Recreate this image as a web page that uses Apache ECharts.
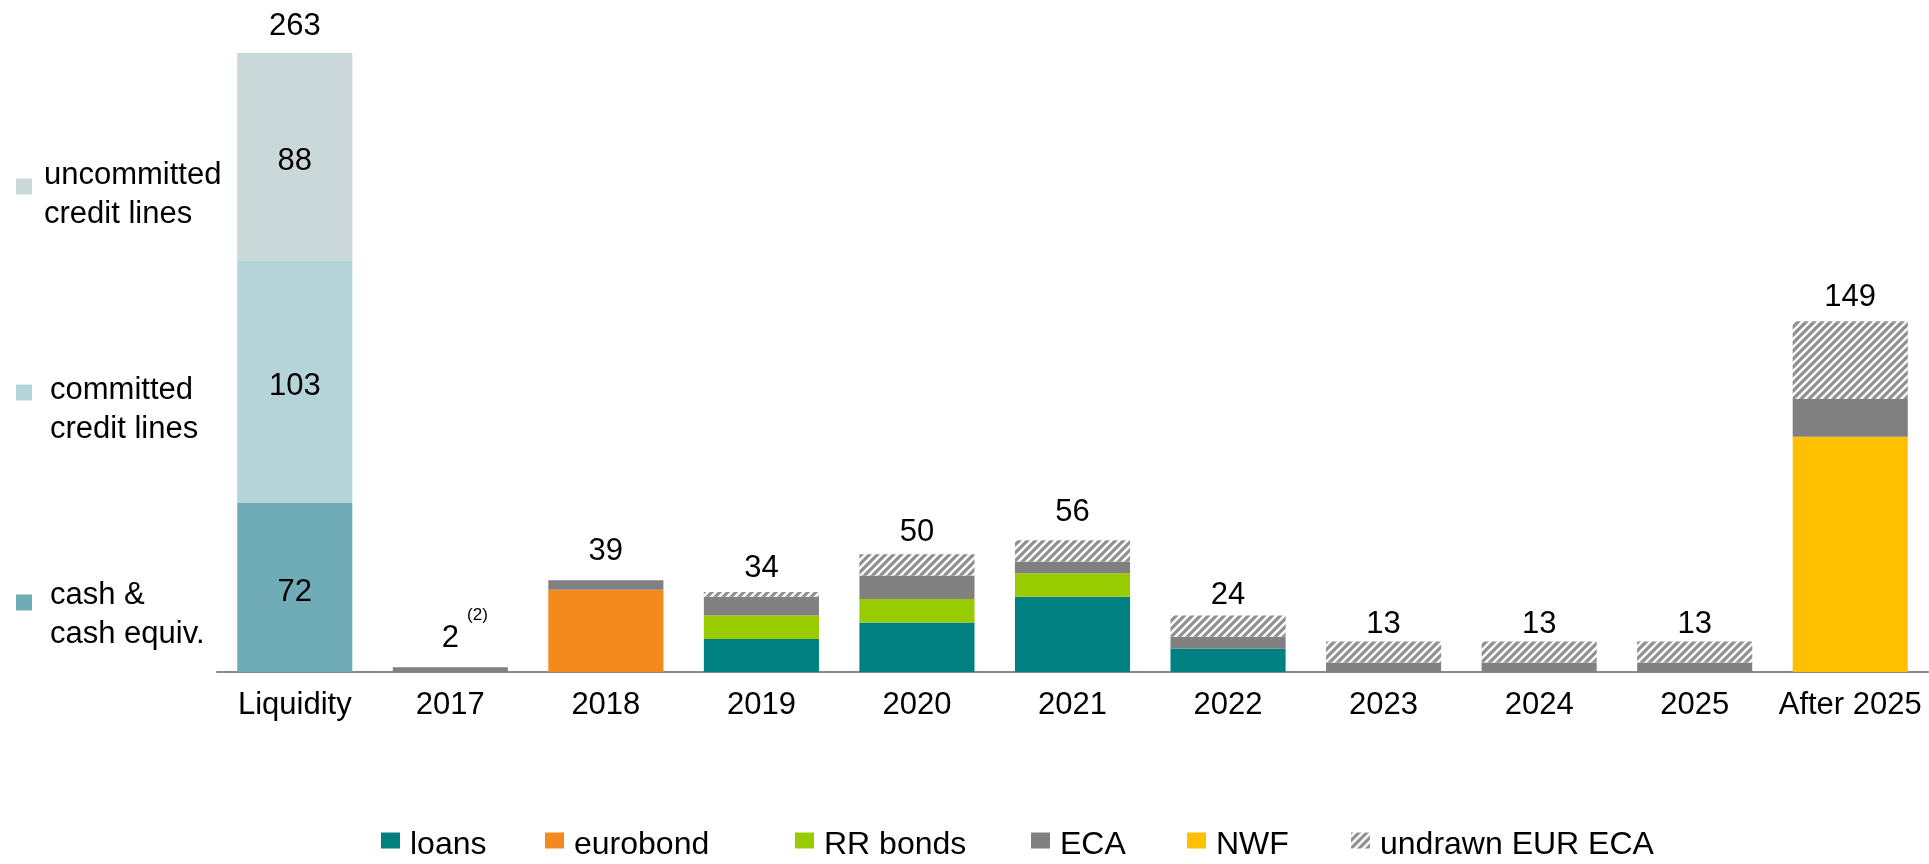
<!DOCTYPE html>
<html>
<head>
<meta charset="utf-8">
<script src="https://cdn.jsdelivr.net/npm/echarts@6/dist/echarts.min.js"></script>
<style>
html,body{margin:0;padding:0;background:#fff;}
#chart{width:1929px;height:864px;}
</style>
</head>
<body>
<div id="chart"></div>
<script>
// ---- data ----
var categories = ['Liquidity','2017','2018','2019','2020','2021','2022','2023','2024','2025','After 2025'];
var cashEquiv   = [72,'-','-','-','-','-','-','-','-','-','-'];
var committed   = [103,'-','-','-','-','-','-','-','-','-','-'];
var uncommitted = [88,'-','-','-','-','-','-','-','-','-','-'];
var loans    = ['-','-','-',14,21,32,10,'-','-','-','-'];
var eurobond = ['-','-',35,'-','-','-','-','-','-','-','-'];
var rrBonds  = ['-','-','-',10,10,10,'-','-','-','-','-'];
var nwf      = ['-','-','-','-','-','-','-','-','-','-',100];
var eca      = ['-',2,4,8,10,5,5,4,4,4,16];
var undrawn  = ['-','-','-',2,9,9,9,9,9,9,33];
var totals   = [263,2,39,34,50,56,24,13,13,13,149];
var footnoteCategory = '2017';
var footnoteText = '(2)';

// ---- style ----
var FONT = "'Liberation Sans', Arial, sans-serif";
// gap between each total label and its bar top (style only)
var totalLabelDistance = {
  'Liquidity': 11, '2017': 13, '2018': 13, '2019': 8, '2020': 6, '2021': 12,
  '2022': 5, '2023': 1, '2024': 1, '2025': 1, 'After 2025': 8
};

function hatch() {
  var c = document.createElement('canvas');
  var s = 8;
  c.width = s; c.height = s;
  var g = c.getContext('2d');
  g.fillStyle = '#ffffff'; g.fillRect(0,0,s,s);
  g.strokeStyle = '#8f8f8f'; g.lineWidth = 3.2;
  g.beginPath();
  g.moveTo(-2, s+2); g.lineTo(s+2, -2);
  g.moveTo(-2-s/2, s/2+2); g.lineTo(s/2+2, -s/2-2);
  g.moveTo(s/2-2, s+s/2+2); g.lineTo(s+s/2+2, s/2-2);
  g.stroke();
  return {image: c, repeat: 'repeat'};
}
var hatchFill = hatch();

var chart = echarts.init(document.getElementById('chart'), null, {renderer:'canvas'});

var insideLabel = {show:true, position:'inside', offset:[0,5], color:'#000', fontSize:31, fontFamily:FONT};
function stackSeries(name, data, color, extra) {
  var s = {
    name: name, type: 'bar', stack: 'a', data: data,
    barCategoryGap: '26%', barGap: '-100%',
    itemStyle: {color: color},
    emphasis: {disabled: true}
  };
  if (extra) for (var k in extra) s[k] = extra[k];
  return s;
}

var totalData = totals.map(function(v, i){
  var cat = categories[i];
  var item = {value: v, label: {distance: totalLabelDistance[cat]}};
  if (cat === footnoteCategory) {
    item.label.formatter = function(p){ return '{pad| }{v|' + p.value + '}{sup|' + footnoteText + '}'; };
    item.label.rich = {
      pad: {width: 29, fontSize: 31, lineHeight: 31, verticalAlign: 'bottom'},
      v: {fontSize: 31, lineHeight: 31, fontFamily: FONT, color: '#000', verticalAlign: 'bottom'},
      sup: {fontSize: 17, lineHeight: 17, fontFamily: FONT, color: '#000', padding: [0,0,30,8], verticalAlign: 'bottom'}
    };
  }
  return item;
});

function shiftedText(name) {
  return '{sp| }\n' + name.split('\n').map(function(l){ return '{a|' + l + '}'; }).join('\n');
}
function leftLegend(name, top, shift, padLeft) {
  return {
    data: [name], orient: 'vertical', left: 16, top: top, padding: 0,
    itemWidth: 16, itemHeight: 16, icon: 'rect', selectedMode: false,
    formatter: shiftedText,
    textStyle: {
      fontSize: 31, fontFamily: FONT, color: '#000', padding: [0, 0, 0, padLeft],
      rich: {
        sp: {fontSize: 1, lineHeight: shift},
        a: {fontSize: 31, fontFamily: FONT, color: '#000', lineHeight: 39}
      }
    }
  };
}
function bottomLegend(name, left) {
  return {
    data: [name], left: left, top: 824, padding: 0,
    itemWidth: 19, itemHeight: 16, icon: 'rect', selectedMode: false,
    formatter: shiftedText,
    textStyle: {
      fontSize: 32, fontFamily: FONT, color: '#000', padding: [0, 0, 0, 5],
      rich: {
        sp: {fontSize: 1, lineHeight: 10},
        a: {fontSize: 32, fontFamily: FONT, color: '#000', lineHeight: 32}
      }
    }
  };
}

var option = {
  backgroundColor: '#fff',
  animation: false,
  textStyle: {fontFamily: FONT},
  grid: {left: 217, right: 1, top: 13, bottom: 192, containLabel: false},
  legend: [
    leftLegend('uncommitted\ncredit lines', 147, 16, 7),
    leftLegend('committed\ncredit lines', 353, 34, 13),
    leftLegend('cash &\ncash equiv.', 563, 24, 13),
    bottomLegend('loans', 381),
    bottomLegend('eurobond', 545),
    bottomLegend('RR bonds', 795),
    bottomLegend('ECA', 1031),
    bottomLegend('NWF', 1187),
    bottomLegend('undrawn EUR ECA', 1351)
  ],
  xAxis: {
    type: 'category', data: categories,
    axisLine: {lineStyle: {color: '#8a8a8a', width: 2}},
    axisTick: {show: false},
    axisLabel: {color: '#000', fontSize: 31, fontFamily: FONT, margin: 18, interval: 0}
  },
  yAxis: {type: 'value', min: 0, max: 280, show: false, splitLine: {show: false}},
  series: [
    stackSeries('cash &\ncash equiv.', cashEquiv, '#70ABB8', {label: insideLabel}),
    stackSeries('committed\ncredit lines', committed, '#B4D4DA', {label: insideLabel}),
    stackSeries('uncommitted\ncredit lines', uncommitted, '#CAD8DA', {label: insideLabel}),
    stackSeries('loans', loans, '#008080'),
    stackSeries('eurobond', eurobond, '#F4891F'),
    stackSeries('RR bonds', rrBonds, '#99CC00'),
    stackSeries('NWF', nwf, '#FFC000'),
    stackSeries('ECA', eca, '#808080'),
    stackSeries('undrawn EUR ECA', undrawn, hatchFill),
    {
      name: 'total', type: 'bar', data: totalData,
      barCategoryGap: '26%', barGap: '-100%',
      itemStyle: {color: 'rgba(0,0,0,0)'},
      emphasis: {disabled: true},
      silent: true,
      z: 1,
      label: {show: true, position: 'top', distance: 12, color: '#000', fontSize: 31, fontFamily: FONT}
    }
  ]
};
chart.setOption(option);
</script>
</body>
</html>
